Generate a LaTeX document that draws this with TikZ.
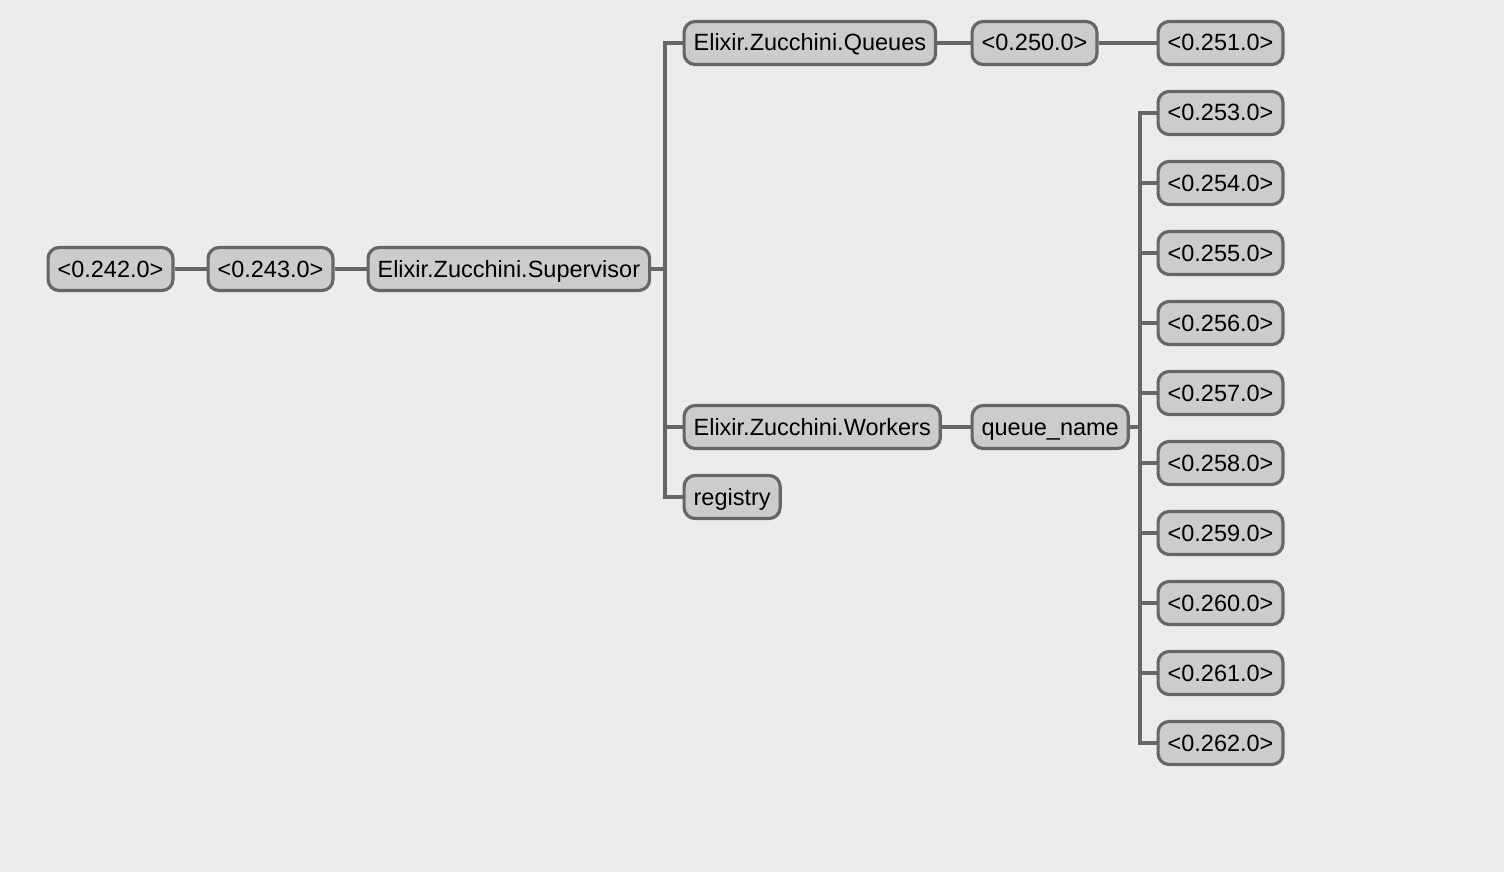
\documentclass[tikz,border=0pt]{standalone}
\usepackage{fontspec}
\setmainfont{Liberation Sans}
\usetikzlibrary{positioning}
\definecolor{canvas}{HTML}{ECECEC}
\definecolor{boxfill}{HTML}{CCCCCC}
\definecolor{boxline}{HTML}{666666}

\begin{document}
\begin{tikzpicture}[x=1pt, y=-1pt]
            \tikzset{proc/.style={draw=boxline, fill=boxfill, line width=3.2pt, rounded corners=11pt,
                    minimum height=43pt, inner xsep=9.5pt, text height=17pt, text depth=1pt,
                    anchor=west, font=\fontsize{23.5}{27}\selectfont}}
            \tikzset{link/.style={draw=boxline, line width=3.2pt}}
            \fill[canvas] (0, 0) rectangle (1504, 872);
            \useasboundingbox (0, 0) rectangle (1504, 872);
            % root chain
            \node[proc] (p242) at (46.5, 269) {<0.242.0>};
            \node[proc] (p243) at (206.5, 269) {<0.243.0>};
            \node[proc] (sup) at (366.5, 269) {Elixir.Zucchini.Supervisor};
            % children of the supervisor
            \node[proc] (queues) at (682.5, 43) {Elixir.Zucchini.Queues};
            \node[proc] (workers) at (682.5, 427) {Elixir.Zucchini.Workers};
            \node[proc] (registry) at (682.5, 497) {registry};
            \node[proc] (p250) at (970.5, 43) {<0.250.0>};
            \node[proc] (p251) at (1156.5, 43) {<0.251.0>};
            \node[proc] (qname) at (970.5, 427) {queue\_name};
            \foreach \i in {253, ..., 262} {
                \node[proc] (p\i) at (1156.5, {113 + 70*(\i-253)}) {<0.\i.0>};
            }
            % connectors
            \draw[link] (p242) -- (p243);
            \draw[link] (p243) -- (sup);
            \draw[link] (queues) -- (p250);
            \draw[link] (p250) -- (p251);
            \draw[link] (workers) -- (qname);
            \coordinate (trunkA) at (665, 269);
            \draw[link] (sup.east) -- (trunkA);
            \draw[link] (queues.west) -| (trunkA) |- (registry.west);
            \draw[link] (trunkA |- workers.west) -- (workers.west);
            \coordinate (trunkB) at (1140, 427);
            \draw[link] (qname.east) -- (trunkB);
            \draw[link] (p253.west) -| (trunkB) |- (p262.west);
            \foreach \i in {254, ..., 261} {
                \draw[link] (trunkB |- p\i.west) -- (p\i.west);
            }
        \end{tikzpicture}
\end{document}
